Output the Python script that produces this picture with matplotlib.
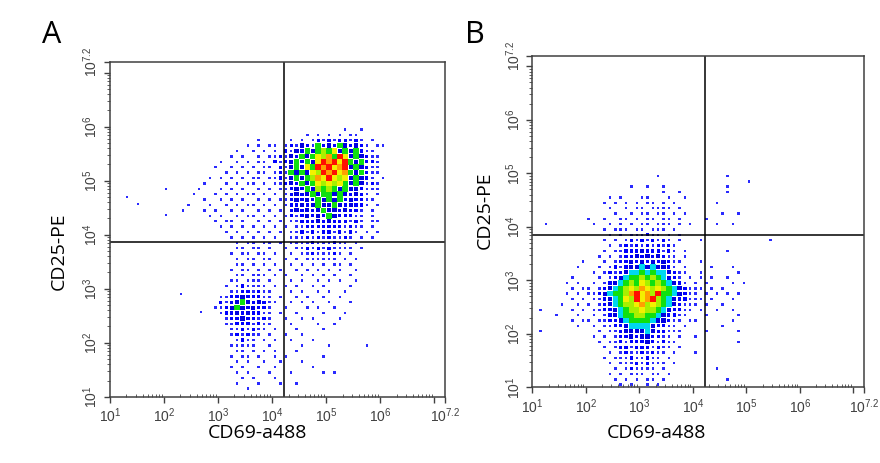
import numpy as np
import matplotlib
matplotlib.use('Agg')
import matplotlib.pyplot as plt

# density grids, 0.1-decade cells, top row first
# levels: 0 empty, 1-3 blue, 4 cyan, 5 green, 6-7 yellow, 8 orange, 9 red
rows_a = [
    "0000000000 0000000000 0000000000 0000000000 0000",
    "0000000000 0000000000 0000000000 0001001000 0000",
    "0000000000 0000000000 0000001010 1010110000 0000",
    "0000000000 0000000100 0001010121 2122121010 0000",
    "0000000000 0000010101 1012132152 3253232101 1000",
    "0000000000 0001001010 1021325356 5735352110 0000",
    "0000000000 0010100101 1213253576 8597353211 0000",
    "0000000000 1001010110 2123525379 8979535221 0000",
    "0000000001 0010101011 0213537598 9789353211 0000",
    "0000000000 0101010110 1215353769 8978535211 0000",
    "0000000010 1010101101 1213535687 9767353210 1000",
    "0000000100 0101011010 1123253576 7675353121 0000",
    "0000001000 1010100101 0112325365 6535332111 0000",
    "0000010001 0101011010 1012323535 5353232101 0000",
    "0000000100 1010100101 0112323253 5352322110 0000",
    "0000100010 0101011010 1012232353 3532322101 0000",
    "0001000101 0010100101 0102323235 3323221010 0000",
    "0000000010 1001011010 1012123232 5322211010 0000",
    "0000000001 0110100101 0101122232 3222121011 0000",
    "0000000000 1010101010 1010112222 2221211010 0000",
    "0000000000 0101010101 0101121212 2121210101 0000",
    "0000000000 0010101010 1001112121 2112101010 0000",
    "0000000000 0001011011 0101111211 1211010000 0000",
    "0000000000 0001101101 0010112121 2111101000 0000",
    "0000000000 0010110110 1001011211 1210100000 0000",
    "0000000000 0001011011 0010101111 1101010000 0000",
    "0000000000 0001101010 1001010101 0110100000 0000",
    "0000000000 0010110101 0100101010 1010010000 0000",
    "0000000000 0001101110 1010010101 0100100000 0000",
    "0000000000 0011011101 0001010010 1010010000 0000",
    "0000000000 0101211110 1010100101 0000100000 0000",
    "0000000000 0011221211 0001010010 1001000000 0000",
    "0000000000 1122322211 0100101001 0010000000 0000",
    "0000000000 2123532321 1001010100 1000100000 0000",
    "0000000001 1235323221 0010001010 0100000000 0000",
    "0000000000 1223232211 0100100001 0001000000 0000",
    "0000000000 0122322121 0010010100 0010000000 0000",
    "0000000000 0112221211 0001000010 0100000000 0000",
    "0000000000 0011212110 1000100001 0000000000 0000",
    "0000000000 0012121101 0010010000 0000000000 0000",
    "0000000000 0001211010 1001000100 0000000000 0000",
    "0000000000 0011111001 0000010000 1000000100 0000",
    "0000000000 0001101010 1000100000 0000000000 0000",
    "0000000000 0010110100 1010000001 0000000000 0000",
    "0000000000 0001010010 0100010000 0000000000 0000",
    "0000000000 0010100100 1000000100 0000000000 0000",
    "0000000000 0001010001 0001000001 0100000000 0000",
    "0000000000 0000101000 1000000000 0000000000 0000",
    "0000000000 0001000100 0100100000 0000000000 0000",
    "0000000000 0000010000 0000000000 0000000000 0000",
    "0000000000 0000000000 0000000000 0000000000 0000",
]
a_x0, a_ytop = 2.0, 6.1

rows_b = [
    "0000000000 0000000000 0000000000 0000000000 000000",
    "0000000000 0000000000 0001000000 0000001000 000000",
    "0000000000 0000000000 0000000000 0000000000 100000",
    "0000000000 0000000010 0100100000 0000001000 000000",
    "0000000000 0000000000 0000100100 0000001000 000000",
    "0000000000 0000101000 1100010010 0000000000 000000",
    "0000000000 0001010101 0110101000 0000100000 000000",
    "0000000000 0000100101 1011110100 0000000000 000000",
    "0000000000 0000010010 1101101010 0000010010 000000",
    "0000000000 1001001101 0110110100 0010000000 000000",
    "0010000000 0100101010 1101110101 0000100100 000000",
    "0000000000 0001011101 1011101000 0000000000 000000",
    "0000000000 0000101011 1211010100 0000000000 000000",
    "0000000000 0001010121 2121210100 0100000000 000010",
    "0000000000 0000101212 1212121000 0000000000 000000",
    "0000000000 0001011222 3222121010 0000001000 000000",
    "0000000000 0010101223 2323211010 0000000000 000000",
    "0000000001 0001012232 3232321100 0100000000 000000",
    "0000000010 0010121233 4343321010 0001000100 000000",
    "0000000000 0101212344 5454432110 0100000010 000000",
    "0000000100 0010123455 6565432101 0101001000 000000",
    "0000001010 0101234565 7656543210 1010000101 000000",
    "0000000101 1012345676 8767654321 1101010000 000000",
    "0000001010 1123455689 7869554321 1010101010 000000",
    "0000000101 0112345769 7896543221 1101000100 000000",
    "0000010010 1012345667 8676543211 1010010000 000000",
    "0100000101 0112234566 7665432211 0100100100 000000",
    "0000100010 0101234556 6554322110 0010000010 000000",
    "0000000101 1011223455 5543321101 1000000100 000000",
    "0000000010 0101122344 4432211010 0000010000 000000",
    "0100000000 0010112333 3432211100 0010000010 000000",
    "0000000000 0101012232 3322110100 1000000000 000000",
    "0000000000 0010112122 2321211000 0000000010 000000",
    "0000000000 0001012212 2212110100 0000000000 000000",
    "0000000000 0000101211 2121101000 1000000000 000000",
    "0000000000 0001011121 1211010000 0000000000 000000",
    "0000000000 0000101112 1211101000 0000000000 000000",
    "0000000000 0000010121 1110100000 0000100000 000000",
    "0000000000 0000101011 1011010000 0000000000 000000",
    "0000000000 0000010101 0110100000 0000001000 000000",
    "0000000000 0000001010 0101000000 0000000000 000000",
]
b_x0, b_ytop = 1.0, 5.1
bin_w = 0.1

# single events outside the grids (log10 units)
out_a_x = [1.31, 1.51, 2.04, 2.04, 2.32, 2.68]
out_a_y = [4.69, 4.57, 4.37, 4.84, 2.90, 2.57]

# quadrant gates (log10 units)
gate_a = (4.22, 3.87)
gate_b = (4.22, 3.85)

tick_pos = [1, 2, 3, 4, 5, 6, 7, 7.2]
tick_txt = [r'$10^{1}$', r'$10^{2}$', r'$10^{3}$', r'$10^{4}$', r'$10^{5}$',
            r'$10^{6}$', '', r'$10^{7.2}$']
minor_pos = [n + np.log10(k) for n in range(1, 7) for k in range(2, 10)]

level_colors = ['#ffffff', '#2a2aff', '#0000ff', '#0000e0', '#00d8f0',
                '#10e010', '#a8f000', '#f4f000', '#ffa000', '#ff1000']
# marker size (points^2) per level: sparse cells drawn as small dots
level_sizes = [0, 3.2, 5.5, 9, 16, 16, 16, 16, 16, 16]

plt.rcParams['mathtext.default'] = 'regular'
plt.rcParams['font.family'] = ['Liberation Sans', 'DejaVu Sans']


def draw_panel(ax, rows, x0, ytop, gate, xlab_pos, ylab_pos):
    g = np.array([[int(ch) for ch in r.replace(' ', '')] for r in rows])
    iy, ix = np.nonzero(g)
    lv = g[iy, ix]
    order = np.argsort(lv, kind='stable')
    xs = x0 + (ix + 0.5) * bin_w
    ys = ytop - (iy + 0.5) * bin_w
    ax.scatter(xs[order], ys[order], s=[level_sizes[v] for v in lv[order]],
               c=[level_colors[v] for v in lv[order]], marker='s', lw=0)
    ax.axvline(gate[0], color='black', lw=1.1)
    ax.axhline(gate[1], color='black', lw=1.1)
    ax.set_xlim(1, 7.2)
    ax.set_ylim(1, 7.2)
    ax.set_xticks(tick_pos)
    ax.set_xticklabels(tick_txt)
    ax.set_yticks(tick_pos)
    ax.set_yticklabels(tick_txt, rotation=90, va='center')
    ax.set_xticks(minor_pos, minor=True)
    ax.set_yticks(minor_pos, minor=True)
    ax.tick_params(which='major', length=4, width=1, color='#404040',
                   labelcolor='#404040', labelsize=10, pad=3)
    ax.tick_params(which='minor', length=2, width=0.7, color='#606060')
    ax.tick_params(axis='x', which='minor', direction='in')
    for s in ax.spines.values():
        s.set_color('#404040')
        s.set_linewidth(1.1)
    ax.set_xlabel('CD69-a488', fontsize=14, family='Open Sans')
    ax.set_ylabel('CD25-PE', fontsize=14, family='Open Sans')
    ax.xaxis.set_label_coords(*xlab_pos)
    ax.yaxis.set_label_coords(*ylab_pos)


fig = plt.figure(figsize=(8.8, 4.63), dpi=100)
ax_a = fig.add_axes([0.125, 0.143, 0.381, 0.7235])
ax_b = fig.add_axes([0.605, 0.1635, 0.377, 0.7162])

draw_panel(ax_a, rows_a, a_x0, a_ytop, gate_a, (0.44, -0.08), (-0.125, 0.435))
ax_a.scatter(out_a_x, out_a_y, s=3.2, marker='s', color='#2a2aff', lw=0)
draw_panel(ax_b, rows_b, b_x0, b_ytop, gate_b, (0.373, -0.11), (-0.118, 0.535))

fig.text(0.059, 0.925, 'A', fontsize=22, family='Open Sans', ha='center', va='center')
fig.text(0.54, 0.925, 'B', fontsize=22, family='Open Sans', ha='center', va='center')

fig.savefig('out.png', dpi=100)
